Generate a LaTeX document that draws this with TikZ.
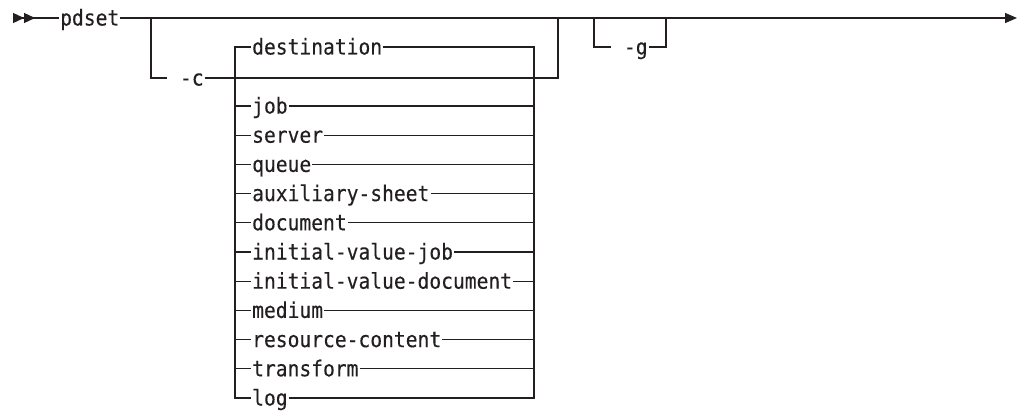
\documentclass[tikz,border=0pt]{standalone}
\usepackage{fontspec}
\newfontfamily\railfont{DejaVu Sans Mono}[FakeStretch=0.9, FakeBold=0.2]
\usetikzlibrary{arrows.meta}
\definecolor{ink}{RGB}{35,31,32}
\tikzset{
    word/.style={inner xsep=1pt, inner ysep=0pt, text height=15pt, text depth=0pt,
        anchor=west, text=ink, font=\railfont\fontsize{21.8pt}{24pt}\selectfont},
    rail/.style={line width=1.3pt, draw=ink},
    headtip/.style={-{Triangle[length=12pt,width=10pt]}}
}

\begin{document}
\begin{tikzpicture}[x=1pt, y=-1pt]
        \useasboundingbox (0,0) rectangle (1019,412);

        \coordinate (start) at (13,18);
        \coordinate (stop) at (1017,18);
        \node[word] (pdset) at (59,18) {pdset};

        \draw[rail, {Triangle[reversed,length=11pt,width=10pt]Triangle[reversed,length=11pt,width=10pt]}-] (start) -- (pdset);
        \draw[rail, headtip] (pdset) -- (stop);

        \coordinate (c0) at (151,18);
        \coordinate (c1) at (151,78);
        \node[word] (optc) at (167,78) {\ -c};
        \coordinate (c2) at (558,78);
        \coordinate (c3) at (558,18);
        \draw[rail] (c0) -- (c1) -- (optc) -- (c2) -- (c3);

        \coordinate (lt) at (235,47);
        \coordinate (rt) at (534,47);
        \node[word] (dest) at (251,47) {destination};
        \foreach \item [count=\k] in {job, server, queue, auxiliary-sheet, document,
                initial-value-job, initial-value-document, medium,
                resource-content, transform, log} {
            \node[word] (item\k) at (251,{106+29.2*(\k-1)}) {\item};
            \draw[rail] (lt |- item\k) -- (item\k) -- (rt |- item\k);
        }
        \coordinate (lb) at (lt |- item11);
        \coordinate (rb) at (rt |- item11);
        \draw[rail] (dest) -- (lt) -- (lb) -- (item11) -- (rb) -- (rt) -- (dest);

        \coordinate (g0) at (594,18);
        \coordinate (g1) at (594,47);
        \node[word] (optg) at (611,47) {\ -g};
        \coordinate (g2) at (666,47);
        \coordinate (g3) at (666,18);
        \draw[rail] (g0) -- (g1) -- (optg) -- (g2) -- (g3);
\end{tikzpicture}
\end{document}
